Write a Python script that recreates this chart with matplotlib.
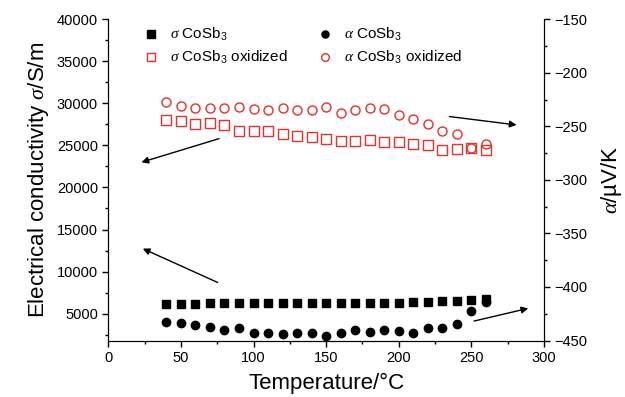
import numpy as np
import matplotlib
matplotlib.use("Agg")
import matplotlib.pyplot as plt
from matplotlib.ticker import MultipleLocator

plt.rcParams['font.family'] = ['Liberation Sans', 'DejaVu Sans']
plt.rcParams['mathtext.fontset'] = 'custom'
plt.rcParams['mathtext.rm'] = 'Liberation Sans'
plt.rcParams['mathtext.it'] = 'Liberation Serif:italic'
plt.rcParams['mathtext.bf'] = 'Liberation Sans:bold'

# temperature, degC
temp = np.arange(40, 261, 10)

# electrical conductivity, S/m
sigma_cosb3 = [6100, 6200, 6200, 6300, 6300, 6300, 6300, 6300, 6300, 6300, 6300, 6300,
               6250, 6250, 6250, 6250, 6300, 6350, 6400, 6450, 6550, 6650, 6750]
sigma_oxid = [28050, 27930, 27570, 27620, 27450, 26740, 26670, 26740, 26350, 26140, 25950, 25750,
              25550, 25510, 25670, 25390, 25360, 25160, 25000, 24480, 24520, 24680, 24400]

# Seebeck coefficient, uV/K
alpha_cosb3 = [-432.3, -433.9, -435.1, -437.6, -440.0, -438.2, -443.2, -442.6, -444.1, -442.9, -443.2, -446.0,
               -442.9, -440.0, -441.9, -440.0, -441.3, -443.2, -438.6, -438.2, -434.9, -422.6, -414.3]
alpha_oxid = [-227.6, -230.8, -233.2, -232.9, -232.9, -232.3, -234.1, -234.8, -233.2, -234.8, -235.1, -231.7,
              -237.6, -235.1, -233.2, -234.1, -239.1, -243.5, -248.1, -254.1, -257.4, -269.9, -266.8]

red = '#e3312b'

fig = plt.figure(figsize=(6.25, 3.97), dpi=100)
ax = fig.add_axes([0.1733, 0.1423, 0.6971, 0.8091])
ax2 = ax.twinx()

h1, = ax.plot(temp, sigma_cosb3, 's', color='black', ms=6, linestyle='none', label=r'$\sigma$ CoSb$_3$')
h2, = ax.plot(temp, sigma_oxid, 's', mfc='none', mec=red, mew=1.0, ms=6.5, linestyle='none',
              label=r'$\sigma$ CoSb$_3$ oxidized')
h3, = ax2.plot(temp, alpha_cosb3, 'o', color='black', ms=6, linestyle='none', label=r'$\alpha$ CoSb$_3$')
h4, = ax2.plot(temp, alpha_oxid, 'o', mfc='none', mec=red, mew=1.0, ms=6.5, linestyle='none',
               label=r'$\alpha$ CoSb$_3$ oxidized')

ax.set_xlim(0, 300)
ax.set_ylim(1800, 40000)
ax2.set_ylim(-450, -150)

ax.xaxis.set_major_locator(MultipleLocator(50))
ax.xaxis.set_minor_locator(MultipleLocator(25))
ax.yaxis.set_major_locator(MultipleLocator(5000))
ax.yaxis.set_minor_locator(MultipleLocator(2500))
ax2.yaxis.set_major_locator(MultipleLocator(50))
ax2.yaxis.set_minor_locator(MultipleLocator(25))

for a in (ax, ax2):
    a.spines['top'].set_visible(False)
    a.tick_params(which='major', direction='out', length=4, width=1, labelsize=10.5)
    a.tick_params(which='minor', direction='out', length=2.5, width=1)

ax.set_xlabel('Temperature/°C', fontsize=16, labelpad=6)
ax.set_ylabel(r'Electrical conductivity $\sigma$/S/m', fontsize=16, labelpad=4)
ax2.set_ylabel(r'$\alpha$/µV/K', fontsize=16, labelpad=8)

arrow = dict(arrowstyle='-|>', color='black', lw=1, mutation_scale=10)
ax.annotate('', xy=(21, 22900), xytext=(78, 25900), arrowprops=arrow)
ax.annotate('', xy=(22, 12860), xytext=(77, 8570), arrowprops=arrow)
ax2.annotate('', xy=(283, -249), xytext=(233, -240.5), arrowprops=arrow)
ax2.annotate('', xy=(291, -419.4), xytext=(250, -432.4), arrowprops=arrow)

ax.legend(handles=[h1, h2, h3, h4], ncol=2, loc='upper left', bbox_to_anchor=(0.046, 1.022),
          frameon=False, fontsize=11, handletextpad=0.6, columnspacing=1.9, labelspacing=0.4,
          handlelength=1.2, markerscale=0.85)

fig.savefig('out.png', dpi=100)
